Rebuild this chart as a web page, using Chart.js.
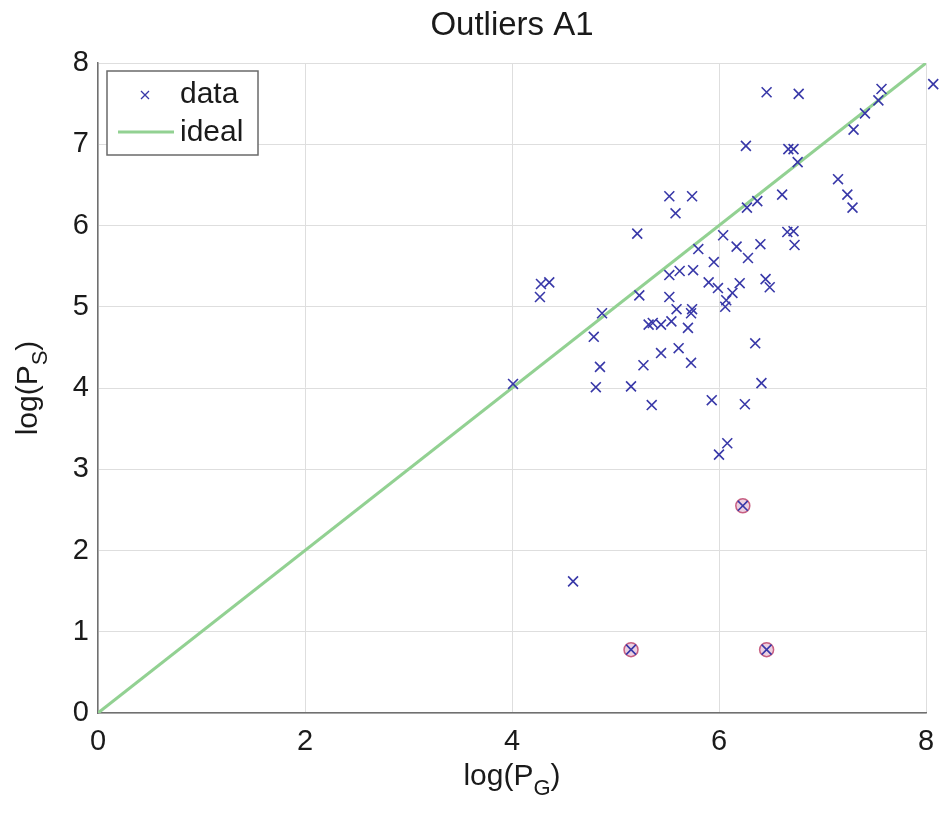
<!DOCTYPE html>
<html lang="en">
<head>
<meta charset="UTF-8">
<title>Outliers A1</title>
<style>
  * { margin: 0; padding: 0; box-sizing: border-box; }
  body { background: #fff; width: 942px; height: 814px; overflow: hidden; }
</style>
<script src="https://cdn.jsdelivr.net/npm/chart.js"></script>
</head>
<body>
<canvas id="chart" width="942" height="814"></canvas>
<script>
// values
const dataX = [6.46, 6.77, 8.07, 7.57, 7.54, 7.41, 7.30, 6.26, 6.67, 6.72,
               6.76, 7.15, 7.24, 7.29, 6.61, 6.37, 6.27, 6.66, 6.72, 6.73,
               6.40, 5.52, 5.74, 5.58, 5.21, 6.04, 5.80, 6.17, 6.28, 5.95,
               5.52, 5.62, 5.75, 5.90, 5.99, 6.20, 6.13, 6.07, 6.06, 6.45,
               6.49, 6.35, 6.41, 6.25, 5.93, 6.08, 6.00, 5.23, 5.52, 5.59,
               5.74, 5.73, 4.87, 5.54, 5.32, 5.36, 5.44, 5.70, 5.44, 5.61,
               5.27, 5.73, 4.28, 4.36, 4.27, 4.79, 4.85, 4.81, 4.01, 5.15,
               5.35, 4.59, 6.23, 5.15, 6.46];
const dataY = [7.64, 7.62, 7.74, 7.68, 7.54, 7.38, 7.18, 6.98, 6.94, 6.94,
               6.78, 6.57, 6.38, 6.22, 6.38, 6.30, 6.22, 5.92, 5.93, 5.76,
               5.77, 6.36, 6.36, 6.15, 5.90, 5.88, 5.71, 5.74, 5.60, 5.55,
               5.39, 5.44, 5.45, 5.30, 5.23, 5.29, 5.17, 5.08, 5.00, 5.34,
               5.24, 4.55, 4.06, 3.80, 3.85, 3.32, 3.18, 5.14, 5.12, 4.97,
               4.97, 4.92, 4.92, 4.82, 4.78, 4.80, 4.78, 4.74, 4.43, 4.49,
               4.28, 4.31, 5.28, 5.30, 5.12, 4.63, 4.26, 4.01, 4.05, 4.02,
               3.79, 1.62, 2.55, 0.78, 0.78];
const outlierX = [6.23, 5.15, 6.46];
const outlierY = [2.55, 0.78, 0.78];
const idealX = [0, 8];
const idealY = [0, 8];
const xTicks = [0, 2, 4, 6, 8];
const yTicks = [0, 1, 2, 3, 4, 5, 6, 7, 8];

const FONT = "'Liberation Sans', Arial, Helvetica, sans-serif";
const BLUE = '#3838a8';
const GREEN = '#92d192';

const pts = (xs, ys) => xs.map((x, i) => ({ x: x, y: ys[i] }));

// axis labels with a subscript, e.g. log(P_G)
function subText(ctx, cx, y, parts, size) {
  ctx.font = size + 'px ' + FONT;
  const w0 = ctx.measureText(parts[0]).width;
  const w2 = ctx.measureText(parts[2]).width;
  ctx.font = Math.round(size * 0.72) + 'px ' + FONT;
  const w1 = ctx.measureText(parts[1]).width;
  let x = cx - (w0 + w1 + w2) / 2;
  ctx.textAlign = 'left';
  ctx.textBaseline = 'alphabetic';
  ctx.font = size + 'px ' + FONT;
  ctx.fillText(parts[0], x, y);
  x += w0;
  ctx.font = Math.round(size * 0.72) + 'px ' + FONT;
  ctx.fillText(parts[1], x, y + size * 0.32);
  x += w1;
  ctx.font = size + 'px ' + FONT;
  ctx.fillText(parts[2], x, y);
}

const extras = {
  id: 'extras',
  afterDraw(chart) {
    const ctx = chart.ctx;
    const a = chart.chartArea;
    const mid = (a.left + a.right) / 2;
    ctx.save();
    ctx.fillStyle = '#1a1a1a';
    // title, centred over the axes like the original
    ctx.font = '33px ' + FONT;
    ctx.textAlign = 'center';
    ctx.textBaseline = 'middle';
    ctx.fillText('Outliers A1', mid, 26);
    subText(ctx, mid, 785, ['log(P', 'G', ')'], 30);
    ctx.translate(37, (a.top + a.bottom) / 2);
    ctx.rotate(-Math.PI / 2);
    subText(ctx, 0, 0, ['log(P', 'S', ')'], 30);
    ctx.restore();

    // legend box, top left inside the axes
    const bx = a.left + 9, by = a.top + 8, bw = 151, bh = 84;
    ctx.save();
    ctx.fillStyle = '#fff';
    ctx.fillRect(bx, by, bw, bh);
    ctx.strokeStyle = '#6a6a6a';
    ctx.lineWidth = 1.5;
    ctx.strokeRect(bx, by, bw, bh);
    ctx.strokeStyle = BLUE;
    ctx.lineWidth = 1.3;
    const mx = bx + 38, my = by + 24, r = 4;
    ctx.beginPath();
    ctx.moveTo(mx - r, my - r); ctx.lineTo(mx + r, my + r);
    ctx.moveTo(mx + r, my - r); ctx.lineTo(mx - r, my + r);
    ctx.stroke();
    ctx.strokeStyle = GREEN;
    ctx.lineWidth = 3;
    ctx.beginPath();
    ctx.moveTo(bx + 11, by + 61); ctx.lineTo(bx + 67, by + 61);
    ctx.stroke();
    ctx.fillStyle = '#1a1a1a';
    ctx.font = '30px ' + FONT;
    ctx.textAlign = 'left';
    ctx.textBaseline = 'middle';
    const names = chart.data.datasets.filter(d => d.label).map(d => d.label);
    ctx.fillText(names[0], bx + 73, by + 24);
    ctx.fillText(names[1], bx + 73, by + 62);
    ctx.restore();
  }
};

new Chart(document.getElementById('chart'), {
  type: 'scatter',
  data: {
    datasets: [
      {
        label: 'data',
        data: pts(dataX, dataY),
        pointStyle: 'crossRot',
        pointRadius: 7,
        borderColor: BLUE,
        borderWidth: 1.6,
        clip: false,
        order: 1
      },
      {
        label: '',
        data: pts(outlierX, outlierY),
        pointStyle: 'circle',
        pointRadius: 7,
        borderColor: 'rgba(190, 70, 110, 0.85)',
        backgroundColor: 'rgba(200, 120, 170, 0.35)',
        borderWidth: 1.5,
        order: 2
      },
      {
        label: 'ideal',
        type: 'line',
        data: pts(idealX, idealY),
        borderColor: GREEN,
        borderWidth: 3,
        pointRadius: 0,
        fill: false,
        order: 3
      }
    ]
  },
  options: {
    responsive: false,
    animation: false,
    layout: { padding: { left: 0, right: 16, top: 63, bottom: 0 } },
    plugins: {
      legend: { display: false },
      tooltip: { enabled: false },
      title: { display: false }
    },
    scales: {
      x: {
        type: 'linear',
        min: 0, max: 8,
        afterFit(s) { s.height = 101; s.paddingRight = 0; s.paddingLeft = 0; },
        afterBuildTicks(s) { s.ticks = xTicks.map(v => ({ value: v })); },
        ticks: { color: '#1a1a1a', font: { family: FONT, size: 29 }, padding: 12 },
        grid: { color: '#dedede', drawTicks: false, lineWidth: 1 },
        border: { color: '#707070', width: 1.5 }
      },
      y: {
        type: 'linear',
        min: 0, max: 8,
        afterFit(s) { s.width = 98; },
        afterBuildTicks(s) { s.ticks = yTicks.map(v => ({ value: v })); },
        ticks: { color: '#1a1a1a', font: { family: FONT, size: 29 }, padding: 9 },
        grid: { color: '#dedede', drawTicks: false, lineWidth: 1 },
        border: { color: '#707070', width: 1.5 }
      }
    }
  },
  plugins: [extras]
});
</script>
</body>
</html>
